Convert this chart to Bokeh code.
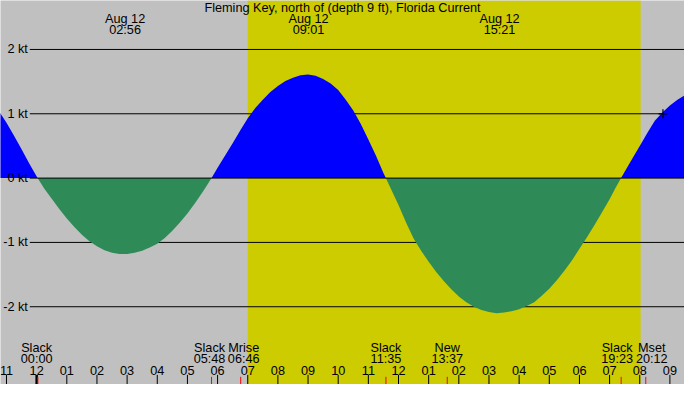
from bokeh.plotting import figure
from bokeh.models import Range1d
from bokeh.core.properties import value
from bokeh.embed import file_html
from bokeh.resources import INLINE

# tidal current, hours after Aug 12 00:00 -> knots
hours = [-2.0, -1.75, -1.5, -1.25, -1.0, -0.75, -0.5, -0.25, 0.03,
         0.25, 0.5, 0.75, 1.0, 1.25, 1.5, 1.75, 2.0, 2.25, 2.5, 2.75,
         3.0, 3.25, 3.5, 3.75, 4.0, 4.25, 4.5, 4.75, 5.0, 5.25, 5.5,
         5.65, 5.8, 6.0, 6.25, 6.5, 6.75, 7.0, 7.25, 7.5, 7.75, 8.0,
         8.25, 8.5, 8.75, 9.0, 9.25, 9.5, 9.75, 10.0, 10.25, 10.5, 10.75,
         11.0, 11.25, 11.5, 11.58, 11.75, 12.0, 12.25, 12.5, 12.75, 13.0,
         13.25, 13.5, 13.75, 14.0, 14.25, 14.5, 14.75, 15.0, 15.25, 15.5,
         15.75, 16.0, 16.25, 16.5, 16.75, 17.0, 17.25, 17.5, 17.75, 18.0,
         18.25, 18.5, 18.75, 19.0, 19.2, 19.38, 19.5, 19.75, 20.0, 20.25,
         20.5, 20.75, 21.0, 21.25, 21.5, 21.75, 22.0]
knots = [1.45, 1.33, 1.20, 1.04, 0.86, 0.66, 0.45, 0.23, 0.0,
         -0.16, -0.32, -0.48, -0.63, -0.76, -0.88, -0.98, -1.06, -1.12,
         -1.16, -1.18, -1.18, -1.16, -1.13, -1.08, -1.02, -0.93, -0.82,
         -0.69, -0.55, -0.39, -0.22, -0.11, 0.0, 0.16, 0.35, 0.54, 0.74,
         0.93, 1.09, 1.22, 1.34, 1.43, 1.51, 1.56, 1.60, 1.61, 1.59, 1.54,
         1.47, 1.37, 1.22, 1.05, 0.84, 0.60, 0.35, 0.08, 0.0, -0.17, -0.42,
         -0.69, -0.94, -1.13, -1.30, -1.46, -1.60, -1.73, -1.84, -1.93,
         -2.00, -2.05, -2.08, -2.10, -2.09, -2.07, -2.04, -1.99, -1.93,
         -1.83, -1.72, -1.59, -1.44, -1.28, -1.10, -0.92, -0.73, -0.53,
         -0.33, -0.15, 0.0, 0.10, 0.30, 0.50, 0.70, 0.89, 1.02, 1.13, 1.22,
         1.29, 1.36, 1.42]

# max current labels on top
max_times = ["02:56", "09:01", "15:21"]
max_date = "Aug 12"

# events along the bottom
event_names = ["Slack", "Slack", "Mrise", "Slack", "New", "Slack", "Mset"]
event_times = ["00:00", "05:48", "06:46", "11:35", "13:37", "19:23", "20:12"]
# labels nudged apart where they would collide (screen px)
event_nudge = [0, -2, 3, 0, 0, -4, 6]

sunrise, sunset = 7.0, 20.03
level_lines = [2, 1, -1, -2]
level_labels = ["2 kt", "1 kt", "0 kt", "-1 kt", "-2 kt"]
tick_hours = list(range(-1, 22))
now_hour, now_kt = 20.77, 1.0

title = "Fleming Key, north of (depth 9 ft), Florida Current"


def hm(s):
    h, m = s.split(":")
    return int(h) + int(m) / 60.0


# reference pixel -> data helpers (chart laid out on a 700x400 grid)
def px(col):
    return (col - 37) / 30.86


def py(row):
    return (185 - row) / 67.0


FONT = value("Liberation Sans")
FS = "12.7px"

p = figure(width=684, height=384, output_backend="svg", toolbar_location=None,
           x_range=Range1d(px(0), px(700)), y_range=Range1d(py(400), py(0)),
           min_border=0)
p.axis.visible = False
p.grid.visible = False
p.outline_line_color = None
p.background_fill_color = "#c0c0c0"
p.border_fill_color = "#c0c0c0"

# daylight
p.quad(left=sunrise, right=sunset, bottom=py(400), top=py(0),
       fill_color="#cccc00", line_color=None)

# level lines
p.segment(x0=px(30), x1=px(700), y0=level_lines, y1=level_lines,
          line_color="black", line_width=1)

pos = [max(k, 0) for k in knots]
neg = [min(k, 0) for k in knots]
p.varea(x=hours, y1=0, y2=pos, fill_color="#0000ff")
p.varea(x=hours, y1=0, y2=neg, fill_color="#2e8b57")

p.segment(x0=px(30), x1=px(700), y0=0, y1=0, line_color="black", line_width=1)

p.scatter([now_hour], [now_kt], marker="cross", size=9, line_color="black",
          line_width=1.2)

# level labels
p.text(x=[px(28)] * 5, y=[2, 1, 0, -1, -2], text=level_labels,
       text_font=FONT, text_font_size=FS, text_align="right",
       text_baseline="middle", text_color="black")

# title
p.text(x=[px(350)], y=[py(7.5)], text=[title], text_font=FONT,
       text_font_size=FS, text_align="center", text_baseline="middle")

# max current labels
mx = [hm(t) for t in max_times]
p.text(x=mx, y=[py(19.5)] * 3, text=[max_date] * 3, text_font=FONT,
       text_font_size=FS, text_align="center", text_baseline="middle")
p.text(x=mx, y=[py(31)] * 3, text=max_times, text_font=FONT,
       text_font_size=FS, text_align="center", text_baseline="middle")

# event labels
ex = [hm(t) for t in event_times]
p.text(x=ex, y=[py(361.5)] * len(ex), text=event_names, x_offset=event_nudge,
       text_font=FONT, text_font_size=FS, text_align="center",
       text_baseline="middle")
p.text(x=ex, y=[py(373)] * len(ex), text=event_times, x_offset=event_nudge,
       text_font=FONT, text_font_size=FS, text_align="center",
       text_baseline="middle")

# hour ticks
p.segment(x0=tick_hours, x1=tick_hours, y0=[py(390)] * len(tick_hours),
          y1=[py(400)] * len(tick_hours), line_color="black", line_width=1)
p.segment(x0=[0, 24], x1=[0, 24], y0=[py(390)] * 2, y1=[py(400)] * 2,
          line_color="black", line_width=2.5)
tick_text = ["%02d" % ((h - 1) % 12 + 1) for h in tick_hours]
p.text(x=tick_hours, y=[py(385.5)] * len(tick_hours), text=tick_text,
       text_font=FONT, text_font_size=FS, text_align="center",
       text_baseline="middle")

# event ticks
ev_tick = [0.04] + ex[1:]
p.segment(x0=ev_tick, x1=ev_tick, y0=[py(392)] * len(ev_tick),
          y1=[py(400)] * len(ev_tick), line_color="red", line_width=1)

open("out.html", "w").write(file_html(p, INLINE))
